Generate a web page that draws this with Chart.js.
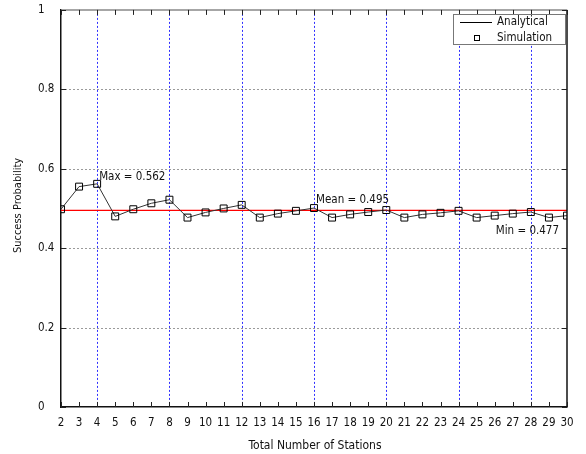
<!DOCTYPE html>
<html>
<head>
<meta charset="utf-8">
<script src="https://cdn.jsdelivr.net/npm/chart.js@4/dist/chart.umd.min.js"></script>
<style>
  html, body { margin: 0; padding: 0; background: #fff; }
  #wrap { width: 586px; height: 454px; }
</style>
</head>
<body>
<div id="wrap"><canvas id="c" width="586" height="454"></canvas></div>
<script>
// Number of stations on the x axis
const stations = [2, 3, 4, 5, 6, 7, 8, 9, 10, 11, 12, 13, 14, 15, 16, 17, 18, 19, 20, 21, 22, 23, 24, 25, 26, 27, 28, 29, 30];
// Simulated success probability per station count
const simulated = [0.498, 0.555, 0.562, 0.480, 0.498, 0.513, 0.522, 0.477, 0.490, 0.500,
                   0.509, 0.477, 0.487, 0.494, 0.501, 0.477, 0.485, 0.491, 0.496, 0.477,
                   0.485, 0.489, 0.494, 0.477, 0.482, 0.487, 0.491, 0.477, 0.482];
// Analytical success probability (constant)
const analytical = 0.495;
// Y axis tick labels
const yTickLabels = ['0', '0.2', '0.4', '0.6', '0.8', '1'];
// Stations where the dotted blue markers are drawn
const markerStations = [4, 8, 12, 16, 20, 24, 28];

const FONT = "'DejaVu Sans Condensed', 'DejaVu Sans', sans-serif";
const TEXT = '#111';

const maxVal = Math.max(...simulated);
const minVal = Math.min(...simulated);
const maxAt = stations[simulated.indexOf(maxVal)];

const simPoints = stations.map((s, i) => ({ x: s, y: simulated[i] }));
const anaPoints = [{ x: stations[0], y: analytical }, { x: stations[stations.length - 1], y: analytical }];

// Dotted grid: gray horizontals, blue verticals at every fourth station
const dottedGrid = {
  id: 'dottedGrid',
  beforeDatasetsDraw(chart) {
    const { ctx, chartArea: a, scales: { x, y } } = chart;
    ctx.save();
    ctx.lineWidth = 1;
    ctx.setLineDash([2, 2]);
    ctx.strokeStyle = '#9a9a9a';
    yTickLabels.map(parseFloat).filter(v => v > 0 && v < 1).forEach(v => {
      const py = Math.round(y.getPixelForValue(v)) + 0.5;
      ctx.beginPath(); ctx.moveTo(a.left, py); ctx.lineTo(a.right, py); ctx.stroke();
    });
    ctx.strokeStyle = '#3030ff';
    markerStations.forEach(s => {
      const px = Math.round(x.getPixelForValue(s)) + 0.5;
      ctx.beginPath(); ctx.moveTo(px, a.top); ctx.lineTo(px, a.bottom); ctx.stroke();
    });
    ctx.restore();
  }
};

// Frame, inward ticks, axis titles, value notes and legend
const decorations = {
  id: 'decorations',
  afterDraw(chart) {
    const { ctx, chartArea: a, scales: { x, y } } = chart;
    ctx.save();

    // top and right frame
    ctx.lineWidth = 1.5;
    ctx.strokeStyle = '#888';
    ctx.beginPath(); ctx.moveTo(a.left, a.top); ctx.lineTo(a.right, a.top); ctx.stroke();
    ctx.strokeStyle = '#111';
    ctx.beginPath(); ctx.moveTo(a.right, a.top); ctx.lineTo(a.right, a.bottom); ctx.stroke();

    // inward tick marks
    ctx.lineWidth = 1;
    ctx.strokeStyle = '#222';
    stations.forEach(s => {
      const px = Math.round(x.getPixelForValue(s)) + 0.5;
      ctx.beginPath(); ctx.moveTo(px, a.bottom); ctx.lineTo(px, a.bottom - 5); ctx.stroke();
      ctx.beginPath(); ctx.moveTo(px, a.top); ctx.lineTo(px, a.top + 5); ctx.stroke();
    });
    yTickLabels.forEach(t => {
      const py = Math.round(y.getPixelForValue(parseFloat(t))) + 0.5;
      ctx.beginPath(); ctx.moveTo(a.left, py); ctx.lineTo(a.left + 5, py); ctx.stroke();
      ctx.beginPath(); ctx.moveTo(a.right, py); ctx.lineTo(a.right - 5, py); ctx.stroke();
    });

    // axis titles
    ctx.fillStyle = TEXT;
    ctx.font = '12px ' + FONT;
    ctx.textAlign = 'center';
    ctx.textBaseline = 'middle';
    ctx.fillText('Total Number of Stations', (a.left + a.right) / 2 + 1, 446);
    ctx.font = '11px ' + FONT;
    ctx.save();
    ctx.translate(18, (a.top + a.bottom) / 2 - 3);
    ctx.rotate(-Math.PI / 2);
    ctx.fillText('Success Probability', 0, 0);
    ctx.restore();

    // value notes
    ctx.font = '11.5px ' + FONT;
    ctx.textAlign = 'left';
    ctx.fillText('Max = ' + maxVal.toFixed(3), x.getPixelForValue(maxAt) + 2, y.getPixelForValue(maxVal) - 7);
    ctx.fillText('Mean = ' + analytical.toFixed(3), x.getPixelForValue(16) + 2, y.getPixelForValue(analytical) - 10);
    ctx.textAlign = 'right';
    ctx.fillText('Min = ' + minVal.toFixed(3), x.getPixelForValue(30) - 8, y.getPixelForValue(minVal) + 13);

    // legend
    const lx = 453.5, ly = 14.5, lw = 112, lh = 30;
    ctx.fillStyle = '#fff';
    ctx.fillRect(lx, ly, lw, lh);
    ctx.strokeStyle = '#777';
    ctx.lineWidth = 1;
    ctx.strokeRect(lx, ly, lw, lh);
    ctx.strokeStyle = '#000';
    ctx.beginPath(); ctx.moveTo(460, 22.5); ctx.lineTo(492, 22.5); ctx.stroke();
    ctx.strokeRect(474.5, 35.5, 5, 5);
    ctx.fillStyle = TEXT;
    ctx.font = '11.5px ' + FONT;
    ctx.textAlign = 'left';
    ctx.textBaseline = 'middle';
    ctx.fillText('Analytical', 497, 22);
    ctx.fillText('Simulation', 497, 38);

    ctx.restore();
  }
};

new Chart(document.getElementById('c'), {
  type: 'line',
  data: {
    datasets: [
      {
        label: 'Analytical',
        data: anaPoints,
        borderColor: '#ff0000',
        borderWidth: 1.3,
        pointRadius: 0,
        order: 2
      },
      {
        label: 'Simulation',
        data: simPoints,
        borderColor: '#333',
        borderWidth: 1,
        pointStyle: 'rect',
        pointRadius: 4.9,
        pointBorderColor: '#000',
        pointBorderWidth: 1,
        pointBackgroundColor: 'rgba(255,255,255,0)',
        order: 1
      }
    ]
  },
  options: {
    responsive: false,
    devicePixelRatio: 1,
    animation: false,
    layout: { padding: { left: 38, right: 19, top: 9, bottom: 0 } },
    plugins: { legend: { display: false }, tooltip: { enabled: false } },
    scales: {
      x: {
        type: 'linear',
        min: 2,
        max: 30,
        afterFit(s) { s.height = 47; },
        afterBuildTicks(s) { s.ticks = stations.map(v => ({ value: v })); },
        ticks: {
          autoSkip: false,
          maxRotation: 0,
          padding: 9,
          color: TEXT,
          font: { family: FONT, size: 11.5 }
        },
        grid: { drawTicks: false, color: 'rgba(0,0,0,0)' },
        border: { display: true, color: '#111', width: 1.5 }
      },
      y: {
        type: 'linear',
        min: 0,
        max: 1,
        afterFit(s) { s.width = 23; },
        afterBuildTicks(s) { s.ticks = yTickLabels.map(t => ({ value: parseFloat(t) })); },
        ticks: {
          crossAlign: 'far',
          color: TEXT,
          font: { family: FONT, size: 11.5 },
          callback: (v, i) => yTickLabels[i]
        },
        grid: { drawTicks: false, color: 'rgba(0,0,0,0)' },
        border: { display: true, color: '#111', width: 1.5 }
      }
    }
  },
  plugins: [dottedGrid, decorations]
});
</script>
</body>
</html>
